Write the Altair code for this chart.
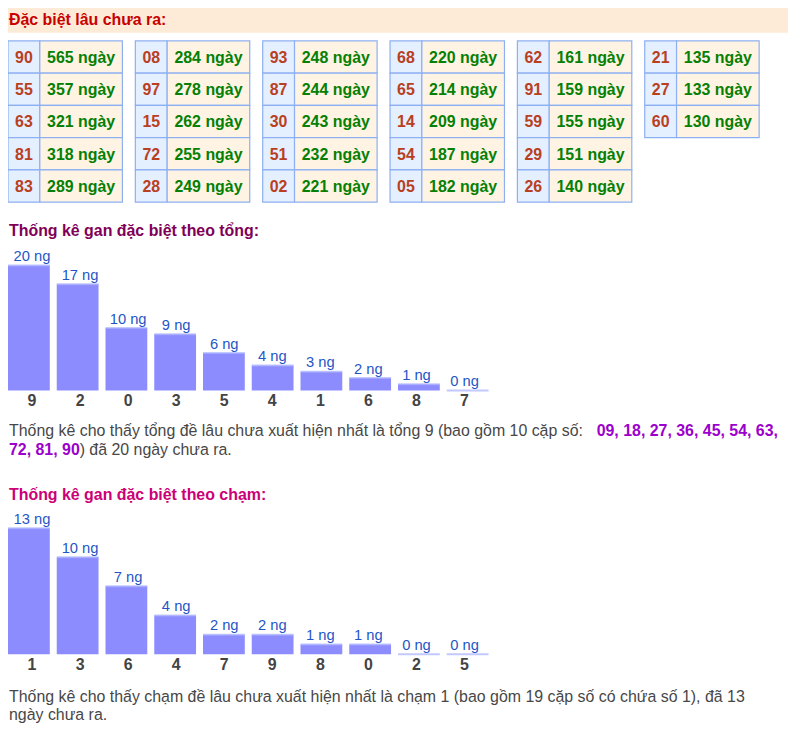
import altair as alt
import pandas as pd

# ---------------- data ----------------
table_nums = ["90", "55", "63", "81", "83",
              "08", "97", "15", "72", "28",
              "93", "87", "30", "51", "02",
              "68", "65", "14", "54", "05",
              "62", "91", "59", "29", "26",
              "21", "27", "60"]
table_days = [565, 357, 321, 318, 289,
              284, 278, 262, 255, 249,
              248, 244, 243, 232, 221,
              220, 214, 209, 187, 182,
              161, 159, 155, 151, 140,
              135, 133, 130]

tong_cats = ["9", "2", "0", "3", "5", "4", "1", "6", "8", "7"]
tong_vals = [20, 17, 10, 9, 6, 4, 3, 2, 1, 0]

cham_cats = ["1", "3", "6", "4", "7", "9", "8", "0", "2", "5"]
cham_vals = [13, 10, 7, 4, 2, 2, 1, 1, 0, 0]

header_text = "Đặc biệt lâu chưa ra:"
title_tong = "Thống kê gan đặc biệt theo tổng:"
title_cham = "Thống kê gan đặc biệt theo chạm:"
para1_l1_a = "Thống kê cho thấy tổng đề lâu chưa xuất hiện nhất là tổng 9 (bao gồm 10 cặp số: "
para1_l1_b = "09, 18, 27, 36, 45, 54, 63,"
para1_l2_a = "72, 81, 90"
para1_l2_b = ") đã 20 ngày chưa ra."
para2_l1 = "Thống kê cho thấy chạm đề lâu chưa xuất hiện nhất là chạm 1 (bao gồm 19 cặp số có chứa số 1), đã 13"
para2_l2 = "ngày chưa ra."

# ---------------- layout ----------------
W, H = 784, 717
OX, OY = 4, 4  # reference-pixel origin of the canvas
FONT = "Liberation Sans"

XP = alt.Scale(domain=[OX, OX + W], range=[0, W], nice=False, zero=False)
YP = alt.Scale(domain=[OY, OY + H], range=[0, H], nice=False, zero=False)


def px_text(df, align="left", **kw):
    return alt.Chart(df).mark_text(font=FONT, align=align, baseline="alphabetic", **kw).encode(
        x=alt.X("x:Q", scale=XP, axis=None),
        y=alt.Y("y:Q", scale=YP, axis=None),
        text="t:N",
    )


def px_rect(df, **kw):
    return alt.Chart(df).mark_rect(**kw).encode(
        x=alt.X("x0:Q", scale=XP, axis=None),
        x2="x1:Q",
        y=alt.Y("y0:Q", scale=YP, axis=None),
        y2="y1:Q",
    )


layers = []

# header band
layers.append(px_rect(pd.DataFrame({"x0": [0], "x1": [800], "y0": [0], "y1": [27]}), color="#fdebd7"))
layers.append(px_text(pd.DataFrame({"x": [5], "y": [19], "t": [header_text]}),
                      fontSize=16, fontWeight="bold", color="#c80000"))

# table
GX0, GSTEP, NUMW, CELLW = 4, 128, 32, 115
RY0, RH = 35.3, 32.4
tab = pd.DataFrame({"num": table_nums, "days": table_days})
tab["g"] = tab.index // 5
tab["r"] = tab.index % 5
tab["gx"] = GX0 + GSTEP * tab["g"]
tab["ry"] = RY0 + RH * tab["r"]
num_cells = pd.DataFrame({"x0": tab["gx"], "x1": tab["gx"] + NUMW, "y0": tab["ry"], "y1": tab["ry"] + RH})
val_cells = pd.DataFrame({"x0": tab["gx"] + NUMW, "x1": tab["gx"] + CELLW, "y0": tab["ry"], "y1": tab["ry"] + RH})
layers.append(px_rect(num_cells, fill="#e4efff", stroke="#8db0f2", strokeWidth=1.2))
layers.append(px_rect(val_cells, fill="#fff4e3", stroke="#8db0f2", strokeWidth=1.2))
num_txt = pd.DataFrame({"x": tab["gx"] + NUMW / 2, "y": tab["ry"] + 22, "t": tab["num"]})
val_txt = pd.DataFrame({"x": tab["gx"] + (NUMW + CELLW) / 2, "y": tab["ry"] + 22,
                        "t": [f"{d} ngày" for d in tab["days"]]})
layers.append(px_text(num_txt, align="center", fontSize=16, fontWeight="bold", color="#b8401e"))
layers.append(px_text(val_txt, align="center", fontSize=16, fontWeight="bold", color="#058005"))


# bar charts
def bar_block(cats, vals, base_y, top_y, vmax):
    df = pd.DataFrame({"c": cats, "v": vals, "lab": [f"{v} ng" for v in vals]})
    xs = alt.Scale(domain=cats, range=[4 - OX, 487 - OX], paddingInner=0.143, paddingOuter=0)
    ys = alt.Scale(domain=[0, vmax], range=[base_y - OY, top_y - OY], nice=False, zero=True)
    X = alt.X("c:N", scale=xs, axis=None, sort=None)
    base = alt.Chart(df)
    bars = base.mark_bar(color="#8c8cff").encode(x=X, y=alt.Y("v:Q", scale=ys, axis=None), y2=alt.datum(0))
    tops = base.mark_tick(color="#aab0ff", thickness=2, size=42, orient="horizontal").encode(
        x=X, y=alt.Y("v:Q", scale=ys, axis=None))
    labs = base.mark_text(font=FONT, fontSize=14.8, color="#1f56c6", baseline="alphabetic", dy=-4.5).encode(
        x=X, y=alt.Y("v:Q", scale=ys, axis=None), text="lab:N")
    cat = base.mark_text(font=FONT, fontSize=16, fontWeight="bold", color="#444444",
                         baseline="alphabetic", dy=16).encode(
        x=X, y=alt.Y("zero:Q", scale=ys, axis=None), text="c:N").transform_calculate(zero="0")
    return [bars, tops, labs, cat]


layers.append(px_text(pd.DataFrame({"x": [5], "y": [231.7], "t": [title_tong]}),
                      fontSize=16, fontWeight="bold", color="#800058"))
layers += bar_block(tong_cats, tong_vals, 386.7, 261, 20)

PCOL = "#474747"
BCOL = "#9c00cc"
layers.append(px_text(pd.DataFrame({"x": [5, 76], "y": [432.3, 451.3], "t": [para1_l1_a, para1_l2_b]}),
                      fontSize=16, color=PCOL))
layers.append(px_text(pd.DataFrame({"x": [595.7, 5], "y": [432.3, 451.3], "t": [para1_l1_b, para1_l2_a]}),
                      fontSize=16, fontWeight="bold", color=BCOL))

layers.append(px_text(pd.DataFrame({"x": [5], "y": [496.3], "t": [title_cham]}),
                      fontSize=16, fontWeight="bold", color="#cc0077"))
layers += bar_block(cham_cats, cham_vals, 651.7, 525, 13)

layers.append(px_text(pd.DataFrame({"x": [5, 5], "y": [699.3, 718.3], "t": [para2_l1, para2_l2]}),
                      fontSize=16, color=PCOL))

chart = alt.layer(*layers).resolve_scale(x="independent", y="independent").properties(
    width=W, height=H, padding=0, autosize=alt.AutoSizeParams(type="none")
).configure_view(stroke=None)

chart.save("out.html", embed_options={"renderer": "svg", "actions": False})
